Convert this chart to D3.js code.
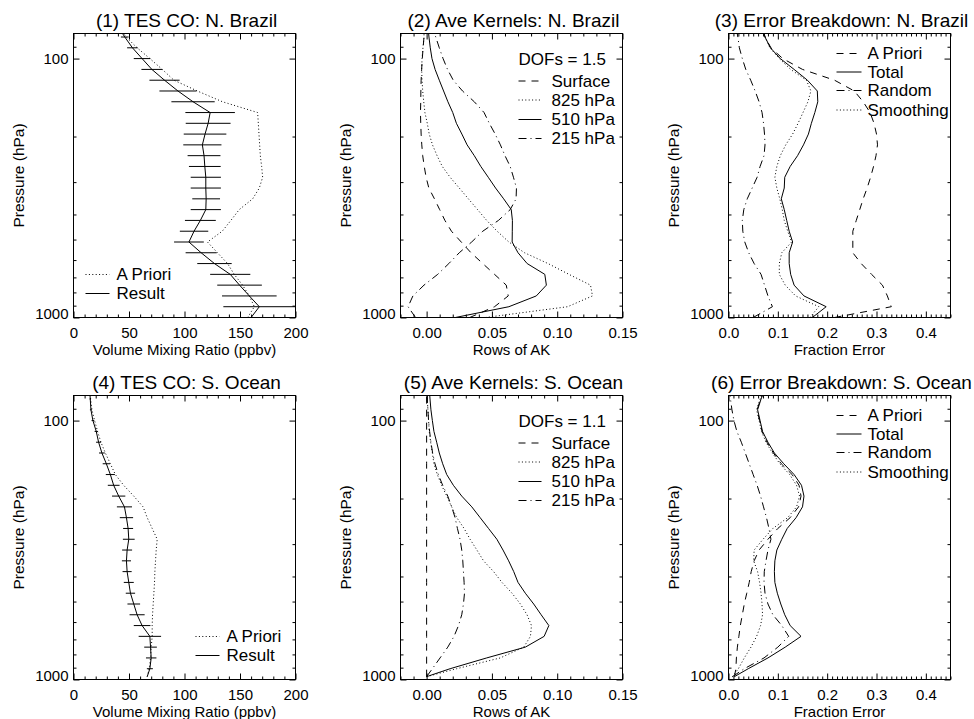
<!DOCTYPE html>
<html>
<head>
<meta charset="utf-8">
<script src="https://cdn.jsdelivr.net/npm/d3@7"></script>
<style>
  body { margin: 0; background: #fff; }
  svg { font-family: "Liberation Sans", Arial, Helvetica, sans-serif; }
</style>
</head>
<body>
<svg id="chart" width="974" height="719"></svg>
<script>
// pressure levels (hPa), surface first
var presBrazil = [1000, 908.5, 825.4, 749.9, 681.3, 619.0, 562.3, 511.0, 464.2, 421.7, 383.1, 348.1, 316.2, 287.3,
                  261.0, 237.1, 215.4, 195.7, 177.8, 161.6, 146.8, 133.4, 121.2, 110.1, 100.0, 90.85, 82.54, 75.0];
var presOcean  = [975, 908.5, 825.4, 749.9, 681.3, 619.0, 562.3, 511.0, 464.2, 421.7, 383.1, 348.1, 316.2, 287.3,
                  261.0, 237.1, 215.4, 195.7, 177.8, 161.6, 146.8, 133.4, 121.2, 110.1, 100.0, 90.85, 82.54, 75.0];

// CO profiles (ppbv)
var coBrazilApriori = [156.9, 162.9, 158.4, 152.3, 144.8, 138.8, 129.7, 120.7, 134, 141.8, 149.3, 161.4, 167.4, 170.4,
                       169.5, 168.3, 167.7, 167.1, 166.5, 165.9, 134.2, 111.6, 90.5, 80, 68.8, 57.3, 47.4, 41];
var coBrazilResult  = [160, 167.4, 158.4, 149.6, 141.2, 127, 115, 104, 108.6, 114.3, 119.2, 119.5, 119.2, 119.2,
                       118.3, 117.6, 116.1, 118.5, 121.3, 123.1, 107.7, 94.1, 82, 70.6, 61.8, 53.1, 46.2, 40];
var coBrazilError   = [null, 32.4, 24.6, 20.1, 18.1, 15.5, 14, 13.4, 12.8, 13.9, 13.6, 12.5, 13.6, 13.6,
                       14.3, 14.8, 17.2, 19.2, 20.2, 22.3, 19.5, 16.7, 13.6, 9.4, 7.5, 4.8, 3.5, null];
var coOceanApriori  = [66.4, 68.2, 69.4, 70, 70.9, 70.9, 71.2, 71.8, 72.4, 73, 73.3, 73.9, 74.5, 75.4,
                       70.9, 66.4, 62.7, 54.3, 45.2, 37.7, 33.2, 28.7, 24.7, 21.7, 19, 16.6, 15.4, 14.8];
var coOceanResult   = [66.4, 68.8, 70, 69.4, 68.8, 61.8, 57.3, 54.3, 51.3, 49.8, 48.3, 47.7, 48.3, 49.8,
                       49.2, 47.7, 45.9, 40.7, 36.2, 33.2, 29.6, 25.6, 22.6, 20.5, 17.5, 15.7, 15.1, 14.5];
var coOceanError    = [null, 2.7, 4.7, 5.7, 10.1, 7.5, 6.8, 5.7, 4.2, 4.5, 4.1, 4.1, 4.5, 5.3,
                       4.5, 6, 6.8, 6, 5.3, 4.1, 3.3, 2.6, 2.3, 1.5, 1.2, 0.9, 0.6, null];

// averaging kernel rows
var akBrazilSurface = [0.033, 0.052, 0.0625, 0.061, 0.052, 0.043, 0.034, 0.0265, 0.019, 0.014, 0.010, 0.006, 0.0017, -0.0004,
                       -0.0018, -0.003, -0.0037, -0.0042, -0.0045, -0.0047, -0.0045, -0.0044, -0.0042, -0.0038, -0.0033, -0.0027, -0.002, -0.001];
var akBrazil825     = [0.045, 0.108, 0.127, 0.1255, 0.109, 0.093, 0.075, 0.063, 0.054, 0.046, 0.039, 0.032, 0.025, 0.018,
                       0.012, 0.008, 0.0045, 0.002, 0.0005, -0.0013, -0.0022, -0.003, -0.0035, -0.0038, -0.0035, -0.0028, -0.002, -0.002];
var akBrazil510     = [0.022, 0.063, 0.084, 0.0917, 0.0905, 0.077, 0.070, 0.0655, 0.0656, 0.0657, 0.0648, 0.059, 0.0528, 0.0472,
                       0.0415, 0.0365, 0.031, 0.027, 0.0228, 0.020, 0.0163, 0.013, 0.0097, 0.0065, 0.0041, 0.0028, 0.0018, 0.001];
var akBrazil215     = [-0.0085, -0.0142, -0.0105, -0.002, 0.0085, 0.017, 0.025, 0.0345, 0.043, 0.055, 0.064, 0.0685, 0.0688, 0.0665,
                       0.064, 0.060, 0.0565, 0.0525, 0.048, 0.044, 0.0365, 0.0275, 0.0204, 0.016, 0.0126, 0.0097, 0.007, 0.004];
var akOceanSurface  = [0, 0, 0, 0, 0, 0, 0, 0, 0, 0, 0, 0, 0, 0,
                       0, 0, 0, 0, 0, 0, 0, 0, 0, 0, 0, 0, 0, 0];
var akOcean825      = [0, 0.023, 0.0564, 0.0744, 0.0795, 0.0803, 0.0769, 0.0718, 0.0654, 0.0577, 0.0513, 0.0436, 0.0385, 0.0333,
                       0.0287, 0.0231, 0.0192, 0.0154, 0.0115, 0.0082, 0.0056, 0.0044, 0.0031, 0.002, 0.0015, 0.001, 0.0005, 0.0005];
var akOcean510      = [0, 0.018, 0.046, 0.0756, 0.090, 0.0936, 0.0877, 0.082, 0.0756, 0.070, 0.0667, 0.0628, 0.0585, 0.0538,
                       0.0474, 0.041, 0.0346, 0.0269, 0.0205, 0.0154, 0.0123, 0.0097, 0.0077, 0.0056, 0.0044, 0.0033, 0.0026, 0.002];
var akOcean215      = [0, 0.0044, 0.0103, 0.0162, 0.021, 0.0244, 0.0269, 0.0282, 0.029, 0.0287, 0.0282, 0.0277, 0.0269, 0.0256,
                       0.0236, 0.0218, 0.0192, 0.0162, 0.0123, 0.009, 0.0064, 0.0046, 0.0033, 0.0023, 0.0015, 0.001, 0.0005, 0.0005];
var dofsBrazil = 1.5, dofsOcean = 1.1;

// fractional errors
var errBrazilApriori   = [0.215, 0.330, 0.322, 0.312, 0.29, 0.269, 0.252, 0.252, 0.252, 0.259, 0.266, 0.273, 0.281, 0.288,
                          0.294, 0.299, 0.302, 0.300, 0.295, 0.287, 0.273, 0.255, 0.215, 0.150, 0.110, 0.086, 0.074, 0.068];
var errBrazilTotal     = [0.170, 0.198, 0.153, 0.133, 0.126, 0.123, 0.123, 0.130, 0.123, 0.118, 0.113, 0.107, 0.113, 0.114,
                          0.125, 0.140, 0.152, 0.162, 0.168, 0.175, 0.181, 0.180, 0.160, 0.133, 0.105, 0.085, 0.074, 0.068];
var errBrazilRandom    = [0.05, 0.089, 0.080, 0.073, 0.066, 0.052, 0.041, 0.033, 0.029, 0.028, 0.031, 0.038, 0.048, 0.058,
                          0.064, 0.072, 0.074, 0.073, 0.071, 0.068, 0.062, 0.054, 0.045, 0.035, 0.028, 0.022, 0.019, 0.015];
var errBrazilSmoothing = [0.165, 0.183, 0.136, 0.115, 0.103, 0.103, 0.108, 0.128, 0.120, 0.113, 0.109, 0.104, 0.098, 0.094,
                          0.098, 0.105, 0.116, 0.130, 0.141, 0.151, 0.161, 0.167, 0.158, 0.126, 0.103, 0.084, 0.074, 0.07];
var errOceanApriori    = [0.012, 0.015, 0.016, 0.018, 0.021, 0.024, 0.028, 0.032, 0.037, 0.042, 0.046, 0.052, 0.062, 0.080,
                          0.100, 0.125, 0.142, 0.147, 0.143, 0.129, 0.107, 0.091, 0.078, 0.068, 0.063, 0.058, 0.065, 0.074];
var errOceanTotal      = [0.012, 0.040, 0.080, 0.115, 0.147, 0.125, 0.114, 0.106, 0.099, 0.094, 0.093, 0.094, 0.098, 0.108,
                          0.119, 0.137, 0.150, 0.153, 0.148, 0.133, 0.112, 0.093, 0.080, 0.069, 0.064, 0.059, 0.066, 0.075];
var errOceanRandom     = [0.008, 0.032, 0.072, 0.100, 0.122, 0.108, 0.090, 0.080, 0.074, 0.072, 0.0725, 0.076, 0.080, 0.086,
                          0.082, 0.077, 0.071, 0.065, 0.058, 0.050, 0.042, 0.034, 0.026, 0.017, 0.011, 0.007, 0.004, 0.002];
var errOceanSmoothing  = [0.008, 0.02, 0.032, 0.0455, 0.057, 0.065, 0.069, 0.068, 0.066, 0.063, 0.059, 0.051, 0.052, 0.07,
                          0.09, 0.12, 0.138, 0.144, 0.138, 0.124, 0.104, 0.089, 0.076, 0.067, 0.062, 0.057, 0.064, 0.073];

// axis ticks
var pressureTicks = [100, 1000];
var pressureMinor = [90, 200, 300, 400, 500, 600, 700, 800, 900];
var vmrTicks = [0, 50, 100, 150, 200];
var akTicks = [0, 0.05, 0.10, 0.15];
var fracTicks = [0, 0.1, 0.2, 0.3, 0.4];

var titles = ["(1) TES CO: N. Brazil", "(2) Ave Kernels: N. Brazil", "(3) Error Breakdown: N. Brazil",
              "(4) TES CO: S. Ocean", "(5) Ave Kernels: S. Ocean", "(6) Error Breakdown: S. Ocean"];
var akLabels = ["Surface", "825 hPa", "510 hPa", "215 hPa"];
var errLabels = ["A Priori", "Total", "Random", "Smoothing"];
var coLabels = ["A Priori", "Result"];

var width = 974, height = 719;
var boxW = 222, boxH = 284;
var cols = [73, 400, 728], rows = [33, 395];

var dash = { solid: null, dashed: "7,6", dotted: "1,2.4", dashdot: "8,4,1,4" };

var svg = d3.select("#chart");

function minorTicks(lo, hi, step, major) {
  return d3.range(lo, hi + step / 2, step)
    .map(function(v) { return +v.toFixed(4); })
    .filter(function(v) { return major.every(function(m) { return Math.abs(m - v) > 1e-6; }); });
}

function panel(o, idx) {
  var g = svg.append("g")
      .attr("transform", "translate(" + (o.left + 0.5) + "," + (o.top + 0.5) + ")");

  var x = d3.scaleLinear().domain(o.xDomain).range([0, boxW]);
  var y = d3.scaleLog().domain([1000, 80]).range([boxH, 0]);

  g.append("clipPath").attr("id", "clip" + idx)
    .append("rect").attr("width", boxW).attr("height", boxH);

  var plot = g.append("g").attr("clip-path", "url(#clip" + idx + ")");

  o.series.forEach(function(s) {
    var line = d3.line()
        .x(function(d) { return x(d[1]); })
        .y(function(d) { return y(d[0]); });
    plot.append("path")
        .datum(d3.zip(o.pres, s.values))
        .attr("d", line)
        .attr("fill", "none")
        .attr("stroke", "#000")
        .attr("stroke-width", 1)
        .attr("stroke-dasharray", dash[s.style]);
  });

  if (o.bars) {
    var pts = d3.zip(o.pres, o.bars.values, o.bars.err).filter(function(d) { return d[2] != null; });
    plot.selectAll("line.bar").data(pts).enter().append("line")
        .attr("class", "bar")
        .attr("x1", function(d) { return x(d[1] - d[2]); })
        .attr("x2", function(d) { return x(d[1] + d[2]); })
        .attr("y1", function(d) { return y(d[0]); })
        .attr("y2", function(d) { return y(d[0]); })
        .attr("stroke", "#000")
        .attr("stroke-width", 1);
  }

  g.append("rect")
      .attr("width", boxW).attr("height", boxH)
      .attr("fill", "none").attr("stroke", "#000").attr("stroke-width", 1);

  var xMinor = minorTicks(o.xDomain[0], o.xDomain[1], o.xMinorStep, o.xTicks);

  function axis(gen, tx, ty, vals, size, fmt, pad) {
    var a = g.append("g").attr("transform", "translate(" + tx + "," + ty + ")")
        .call(gen.tickValues(vals).tickSize(size).tickSizeOuter(0)
              .tickPadding(pad || 3).tickFormat(fmt || ""));
    a.select(".domain").remove();
    a.attr("font-family", null).attr("font-size", null);
    a.selectAll("text").style("font-size", "15px").attr("fill", "#000");
    return a;
  }

  axis(d3.axisBottom(x), 0, boxH, o.xTicks, -6, o.xFormat, 9.5);
  axis(d3.axisBottom(x), 0, boxH, xMinor, -3);
  axis(d3.axisTop(x), 0, 0, o.xTicks, -6);
  axis(d3.axisTop(x), 0, 0, xMinor, -3);
  var left = axis(d3.axisLeft(y), 0, 0, pressureTicks, -6, d3.format("d"), 5);
  left.selectAll("text").attr("dy", function(d) { return d === 1000 ? "0.05em" : "0.32em"; });
  axis(d3.axisLeft(y), 0, 0, pressureMinor, -3);
  axis(d3.axisRight(y), boxW, 0, pressureTicks, -6);
  axis(d3.axisRight(y), boxW, 0, pressureMinor, -3);

  g.append("text")
      .attr("x", boxW / 2 + 2).attr("y", -7)
      .attr("text-anchor", "middle")
      .style("font-size", "19px")
      .text(o.title);

  g.append("text")
      .attr("x", boxW / 2).attr("y", boxH + 37)
      .attr("text-anchor", "middle")
      .style("font-size", "15px")
      .text(o.xLabel);

  g.append("text")
      .attr("transform", "translate(-55," + (boxH / 2) + ") rotate(-90)")
      .attr("text-anchor", "middle")
      .attr("dy", "0.35em")
      .style("font-size", "15.5px")
      .text("Pressure (hPa)");

  var lg = o.legend;
  if (lg.header) {
    g.append("text")
        .attr("x", lg.x0).attr("y", lg.headerY).attr("dy", "0.35em")
        .style("font-size", "17px")
        .text(lg.header);
  }
  lg.items.forEach(function(it, i) {
    var yy = lg.rowY[i];
    g.append("line")
        .attr("x1", lg.x0).attr("x2", lg.x1)
        .attr("y1", yy).attr("y2", yy)
        .attr("stroke", "#000").attr("stroke-width", 1)
        .attr("stroke-dasharray", dash[it.style]);
    g.append("text")
        .attr("x", lg.tx).attr("y", yy).attr("dy", "0.35em")
        .style("font-size", "17px")
        .text(it.label);
  });
}

function coPanel(row, title, pres, apriori, result, err, legendX) {
  return {
    left: cols[0], top: rows[row], title: title, pres: pres,
    xDomain: [0, 200], xTicks: vmrTicks, xMinorStep: 10, xFormat: d3.format("d"),
    xLabel: "Volume Mixing Ratio (ppbv)",
    series: [{ values: apriori, style: "dotted" }, { values: result, style: "solid" }],
    bars: { values: result, err: err },
    legend: {
      x0: legendX, x1: legendX + 24, tx: legendX + 31, rowY: [boxH - 43, boxH - 24],
      items: [{ label: coLabels[0], style: "dotted" }, { label: coLabels[1], style: "solid" }]
    }
  };
}

function akPanel(row, title, pres, rowsAK, dofs) {
  var styles = ["dashed", "dotted", "solid", "dashdot"];
  return {
    left: cols[1], top: rows[row], title: title, pres: pres,
    xDomain: [-0.02, 0.15], xTicks: akTicks, xMinorStep: 0.01, xFormat: d3.format(".2f"),
    xLabel: "Rows of AK",
    series: rowsAK.map(function(v, i) { return { values: v, style: styles[i] }; }),
    legend: {
      header: "DOFs = " + dofs.toFixed(1), headerY: 25.5,
      x0: 118, x1: 141, tx: 151, rowY: [47.5, 66.5, 86, 105],
      items: akLabels.map(function(l, i) { return { label: l, style: styles[i] }; })
    }
  };
}

function errPanel(row, title, pres, sets) {
  var styles = ["dashed", "solid", "dashdot", "dotted"];
  return {
    left: cols[2], top: rows[row], title: title, pres: pres,
    xDomain: [0, 0.45], xTicks: fracTicks, xMinorStep: 0.01, xFormat: d3.format(".1f"),
    xLabel: "Fraction Error",
    series: sets.map(function(v, i) { return { values: v, style: styles[i] }; }),
    legend: {
      x0: 108, x1: 133, tx: 139, rowY: [20, 38.5, 57, 76.5],
      items: errLabels.map(function(l, i) { return { label: l, style: styles[i] }; })
    }
  };
}

var panels = [
  coPanel(0, titles[0], presBrazil, coBrazilApriori, coBrazilResult, coBrazilError, 12),
  akPanel(0, titles[1], presBrazil, [akBrazilSurface, akBrazil825, akBrazil510, akBrazil215], dofsBrazil),
  errPanel(0, titles[2], presBrazil, [errBrazilApriori, errBrazilTotal, errBrazilRandom, errBrazilSmoothing]),
  coPanel(1, titles[3], presOcean, coOceanApriori, coOceanResult, coOceanError, 122),
  akPanel(1, titles[4], presOcean, [akOceanSurface, akOcean825, akOcean510, akOcean215], dofsOcean),
  errPanel(1, titles[5], presOcean, [errOceanApriori, errOceanTotal, errOceanRandom, errOceanSmoothing])
];

panels.forEach(panel);
</script>
</body>
</html>
